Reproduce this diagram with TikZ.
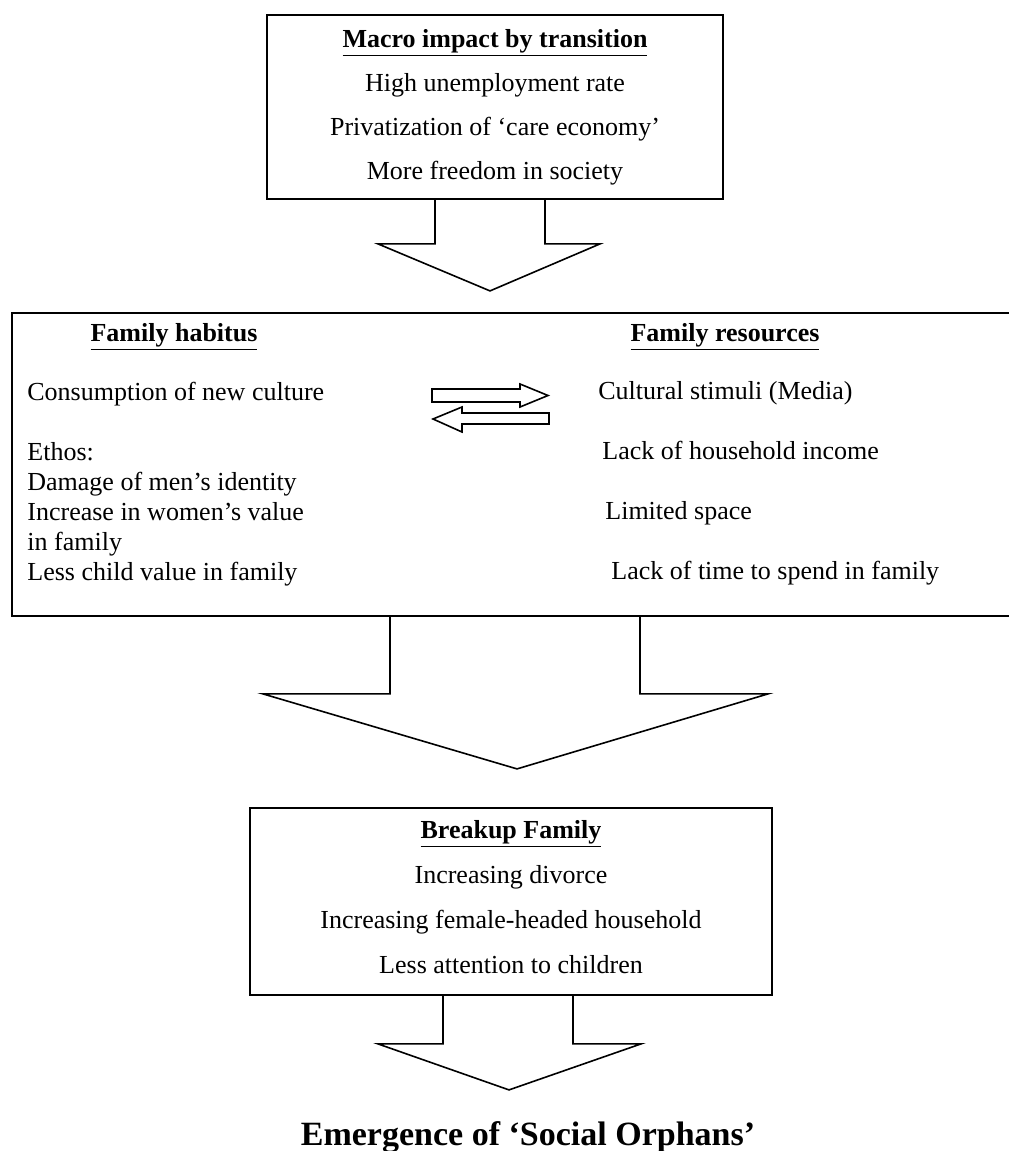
\documentclass[tikz,border=0pt]{standalone}
\usepackage{fontspec}
\setmainfont{Liberation Serif}
\usetikzlibrary{positioning}

\begin{document}
\begin{tikzpicture}[x=0.5pt, y=-0.5pt,
  box/.style={draw, line width=0.9pt, inner sep=0pt},
  boxtext/.style={align=center, font=\fontsize{13}{22}\selectfont},
  coltext/.style={align=left, anchor=base west, inner sep=0pt},
  head/.style={font=\fontsize{13}{15}\selectfont\bfseries, anchor=base, inner sep=0pt},
  blockarr/.style={draw, line width=0.8pt, line join=miter},
  thinarr/.style={draw, line width=0.8pt}
]
\useasboundingbox (0,0) rectangle (1008,1151);

% top box
\node[box, boxtext, minimum width=228pt, minimum height=92pt] (macro) at (495,107)
  {\underline{\textbf{Macro impact by transition}}\\ High unemployment rate\\ Privatization of ‘care economy’\\ More freedom in society};
\draw[blockarr] ([xshift=-30pt]macro.south) -- ++(0,44) -- ++(-57,0) -- ++(112,47) -- ++(110,-47) -- ++(-55,0) -- ++(0,-44);

% middle box, running off the right edge
\node[box, minimum width=501.5pt, minimum height=151.5pt] (family) at (513.5,464.5) {};
\node[head] (habtitle) at (174,341) {\underline{Family habitus}};
\node[head] (restitle) at (725,341) {\underline{Family resources}};
% base of a multi-line node = last line
\node[coltext, font=\fontsize{13}{15}\selectfont] (habitus) at (27,580)
  {Consumption of new culture\\[15pt] Ethos:\\ Damage of men’s identity\\ Increase in women’s value\\ in family\\ Less child value in family};
\node[coltext, font=\fontsize{13}{30}\selectfont] (resources) at (598,579)
  {Cultural stimuli (Media)\\ \hspace*{2pt}Lack of household income\\ \hspace*{3.5pt}Limited space\\ \hspace*{6.5pt}Lack of time to spend in family};
\draw[thinarr] (432,389) -- (520,389) -- (520,384) -- (548,395.5) -- (520,407) -- (520,402) -- (432,402) -- cycle;
\draw[thinarr] (433,419) -- (462,407) -- (462,413) -- (549,413) -- (549,424) -- (462,424) -- (462,432) -- cycle;
\draw[blockarr] ([xshift=-61.75pt]family.south) -- ++(0,77) -- ++(-127,0) -- ++(254,75) -- ++(251,-75) -- ++(-128,0) -- ++(0,-77);

% bottom box
\node[box, boxtext, font=\fontsize{13}{22.5}\selectfont, minimum width=261pt, minimum height=93.5pt] (breakup) at (511,901.5)
  {\underline{\textbf{Breakup Family}}\\ Increasing divorce\\ Increasing female-headed household\\ Less attention to children\rule[-5pt]{0pt}{5pt}};
\draw[blockarr] ([xshift=-34pt]breakup.south) -- ++(0,48) -- ++(-65,0) -- ++(131,46) -- ++(132,-46) -- ++(-68,0) -- ++(0,-48);

\node[font=\fontsize{17}{20}\selectfont\bfseries, anchor=base, inner sep=0pt] (orphans) at (528,1145) {Emergence of ‘Social Orphans’};
\end{tikzpicture}
\end{document}
